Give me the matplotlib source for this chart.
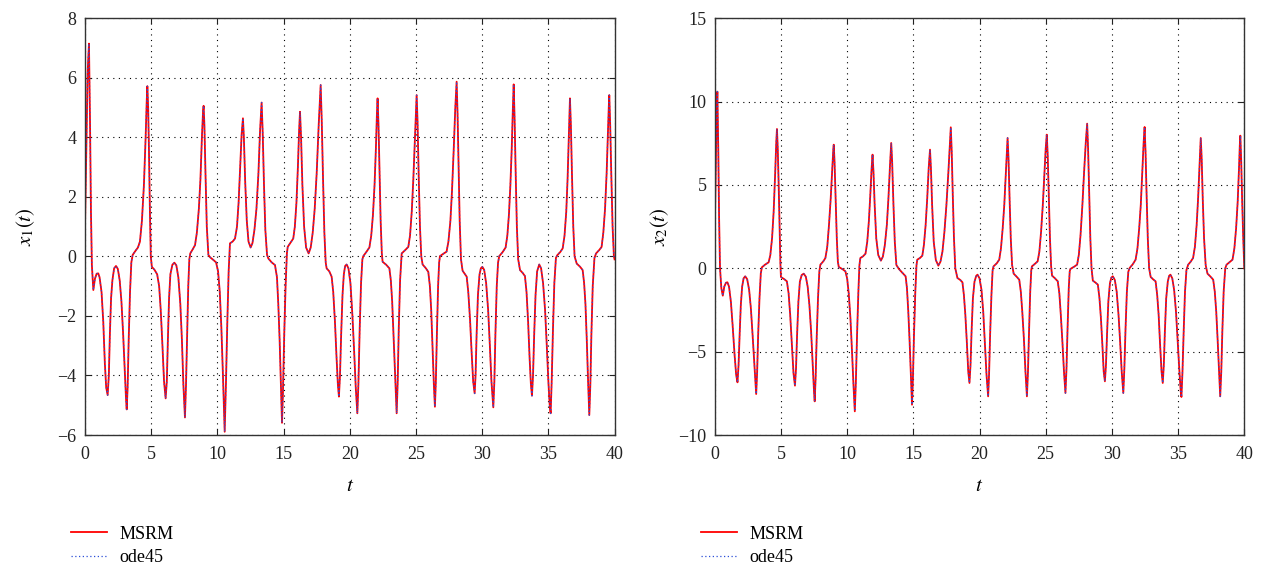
import matplotlib
import matplotlib.pyplot as plt

matplotlib.use("Agg")

plt.rcParams["font.family"] = ["Liberation Serif", "DejaVu Serif"]
plt.rcParams["mathtext.fontset"] = "stix"

RED = "#FF0000"
BLUE = "#2B4FD8"

# x1(t): points
t1 = [0.0, 0.1, 0.2, 0.3, 0.38, 0.45, 0.52, 0.63, 0.75, 0.88, 1.0, 1.1, 1.25, 1.38, 1.5, 1.6, 1.71, 1.8, 1.88, 1.97,
      2.07, 2.2, 2.34, 2.48, 2.62, 2.75, 2.88, 3.0, 3.1, 3.15, 3.22, 3.3, 3.4, 3.5, 3.6, 3.8, 4.0, 4.15, 4.3, 4.45,
      4.58, 4.66, 4.71, 4.77, 4.83, 4.9, 4.97, 5.05, 5.25, 5.45, 5.6, 5.72, 5.85, 5.97, 6.09, 6.18, 6.26, 6.35, 6.45, 6.6,
      6.75, 6.9, 7.05, 7.2, 7.32, 7.43, 7.55, 7.63, 7.72, 7.8, 7.88, 7.95, 8.15, 8.31, 8.45, 8.6, 8.72, 8.83, 8.92, 8.96,
      9.02, 9.1, 9.2, 9.32, 9.45, 9.7, 9.9, 10.05, 10.18, 10.3, 10.42, 10.55, 10.65, 10.75, 10.85, 10.95, 11.15, 11.33, 11.48, 11.6,
      11.72, 11.83, 11.93, 12.0, 12.1, 12.22, 12.35, 12.51, 12.65, 12.8, 12.95, 13.1, 13.22, 13.34, 13.42, 13.52, 13.62, 13.75, 13.85, 14.1,
      14.35, 14.5, 14.6, 14.7, 14.8, 14.88, 14.95, 15.05, 15.15, 15.25, 15.31, 15.55, 15.73, 15.85, 15.97, 16.08, 16.17, 16.24, 16.32, 16.42,
      16.55, 16.7, 16.89, 17.05, 17.2, 17.35, 17.5, 17.65, 17.8, 17.88, 17.98, 18.08, 18.18, 18.25, 18.45, 18.63, 18.75, 18.88, 19.0, 19.1,
      19.18, 19.26, 19.35, 19.45, 19.55, 19.65, 19.76, 19.9, 20.05, 20.2, 20.33, 20.45, 20.57, 20.65, 20.75, 20.85, 20.95, 21.02, 21.25, 21.48,
      21.62, 21.75, 21.87, 21.97, 22.05, 22.1, 22.17, 22.25, 22.33, 22.42, 22.48, 22.75, 22.99, 23.1, 23.2, 23.3, 23.42, 23.54, 23.62, 23.7,
      23.8, 23.92, 24.2, 24.42, 24.55, 24.68, 24.8, 24.92, 25.0, 25.05, 25.12, 25.2, 25.3, 25.4, 25.5, 25.75, 25.93, 26.05, 26.15, 26.25,
      26.35, 26.43, 26.5, 26.58, 26.67, 26.75, 26.81, 27.1, 27.31, 27.45, 27.6, 27.72, 27.85, 27.97, 28.07, 28.14, 28.22, 28.3, 28.4, 28.52,
      28.83, 28.95, 29.08, 29.2, 29.32, 29.43, 29.5, 29.58, 29.68, 29.8, 29.9, 30.01, 30.15, 30.3, 30.45, 30.58, 30.7, 30.84, 30.92, 31.0,
      31.1, 31.2, 31.29, 31.55, 31.77, 31.9, 32.02, 32.13, 32.23, 32.32, 32.38, 32.45, 32.53, 32.62, 32.72, 32.86, 33.05, 33.23, 33.35, 33.47,
      33.58, 33.68, 33.76, 33.84, 33.93, 34.03, 34.15, 34.31, 34.45, 34.6, 34.75, 34.88, 35.0, 35.1, 35.17, 35.25, 35.35, 35.45, 35.57, 35.67,
      35.9, 36.08, 36.22, 36.35, 36.45, 36.53, 36.6, 36.63, 36.7, 36.78, 36.88, 36.98, 37.14, 37.4, 37.59, 37.7, 37.8, 37.9, 38.0, 38.09,
      38.17, 38.25, 38.35, 38.48, 38.6, 38.85, 39.02, 39.15, 39.28, 39.4, 39.5, 39.56, 39.6, 39.67, 39.75, 39.85, 39.95, 40.0]
x1 = [1.0, 3.5, 6.2, 7.15, 4.5, 1.5, -0.3, -1.13, -0.75, -0.58, -0.57, -0.7, -1.2, -2.2, -3.6, -4.4, -4.66, -4.0, -2.6, -1.4,
      -0.8, -0.4, -0.32, -0.42, -0.8, -1.5, -2.6, -3.8, -4.8, -5.14, -4.4, -2.8, -1.2, -0.2, 0.05, 0.18, 0.3, 0.5, 1.2, 2.4,
      4.0, 5.2, 5.72, 5.0, 3.6, 1.6, 0.0, -0.35, -0.45, -0.6, -1.0, -1.8, -3.0, -4.2, -4.77, -4.2, -2.8, -1.4, -0.6, -0.28,
      -0.21, -0.3, -0.7, -1.6, -2.8, -4.3, -5.41, -4.3, -2.5, -1.0, -0.1, 0.1, 0.25, 0.38, 0.8, 1.6, 2.6, 4.0, 4.9, 5.06,
      4.4, 2.8, 1.0, 0.05, -0.03, -0.12, -0.2, -0.5, -1.2, -2.4, -4.0, -5.89, -4.2, -2.2, -0.5, 0.44, 0.5, 0.6, 1.0, 1.8,
      3.0, 4.1, 4.64, 4.0, 2.5, 1.2, 0.5, 0.3, 0.45, 0.9, 1.6, 2.8, 4.2, 5.17, 4.2, 2.4, 0.9, 0.05, -0.07, -0.2,
      -0.29, -0.7, -1.6, -2.8, -4.4, -5.59, -4.6, -2.6, -1.0, 0.1, 0.32, 0.48, 0.6, 1.0, 1.8, 3.0, 4.2, 4.86, 4.0, 2.4,
      1.0, 0.3, 0.1, 0.3, 0.8, 1.6, 2.8, 4.4, 5.76, 4.6, 2.6, 0.8, -0.2, -0.4, -0.5, -0.68, -1.2, -2.2, -3.4, -4.3,
      -4.71, -4.0, -2.6, -1.3, -0.6, -0.32, -0.27, -0.4, -0.9, -2.0, -3.2, -4.4, -5.27, -4.3, -2.4, -0.9, -0.1, 0.01, 0.15, 0.3,
      0.7, 1.4, 2.4, 3.6, 4.8, 5.31, 4.4, 2.8, 1.2, 0.1, -0.18, -0.28, -0.4, -0.8, -1.5, -2.6, -4.0, -5.27, -4.2, -2.4,
      -0.8, 0.1, 0.22, 0.32, 0.7, 1.5, 2.6, 4.0, 5.0, 5.42, 4.5, 2.8, 1.0, 0.0, -0.27, -0.4, -0.52, -1.0, -1.8, -3.0,
      -4.3, -5.05, -4.2, -2.6, -1.0, -0.2, 0.01, 0.1, 0.16, 0.5, 1.2, 2.2, 3.6, 5.0, 5.87, 4.8, 3.0, 1.2, -0.1, -0.48,
      -0.68, -1.2, -2.1, -3.2, -4.2, -4.6, -4.0, -2.6, -1.3, -0.6, -0.4, -0.35, -0.45, -0.9, -1.8, -3.0, -4.2, -5.07, -4.2, -2.6,
      -1.0, -0.2, 0.01, 0.15, 0.3, 0.7, 1.4, 2.4, 3.6, 5.0, 5.78, 4.6, 2.8, 1.0, -0.1, -0.46, -0.55, -0.66, -1.2, -2.2,
      -3.4, -4.3, -4.68, -4.0, -2.6, -1.3, -0.5, -0.27, -0.4, -0.9, -1.8, -3.0, -4.2, -5.0, -5.27, -4.2, -2.4, -0.9, -0.05, 0.04,
      0.15, 0.27, 0.7, 1.5, 2.6, 3.8, 4.9, 5.31, 4.4, 2.8, 1.0, 0.0, -0.24, -0.35, -0.46, -0.9, -1.6, -2.8, -4.2, -5.33,
      -4.3, -2.6, -1.0, -0.05, 0.1, 0.22, 0.32, 0.8, 1.6, 2.8, 4.2, 5.0, 5.42, 4.4, 2.8, 1.0, 0.0, -0.1]

# x2(t): points
t2 = [0.0, 0.07, 0.14, 0.2, 0.27, 0.33, 0.4, 0.5, 0.61, 0.72, 0.85, 0.96, 1.08, 1.22, 1.35, 1.5, 1.62, 1.72, 1.8, 1.88,
      1.97, 2.07, 2.18, 2.3, 2.45, 2.6, 2.73, 2.86, 2.98, 3.08, 3.13, 3.2, 3.28, 3.38, 3.48, 3.56, 3.8, 4.07, 4.2, 4.33,
      4.45, 4.56, 4.65, 4.7, 4.76, 4.83, 4.9, 4.96, 5.0, 5.25, 5.45, 5.58, 5.7, 5.82, 5.95, 6.06, 6.14, 6.22, 6.32, 6.43,
      6.57, 6.72, 6.88, 7.02, 7.15, 7.28, 7.4, 7.5, 7.55, 7.62, 7.7, 7.8, 7.9, 7.98, 8.2, 8.36, 8.5, 8.63, 8.76, 8.88,
      8.96, 8.99, 9.05, 9.13, 9.22, 9.3, 9.37, 9.65, 9.87, 10.0, 10.12, 10.25, 10.37, 10.48, 10.58, 10.66, 10.75, 10.85, 10.93, 11.0,
      11.2, 11.39, 11.52, 11.64, 11.75, 11.85, 11.92, 11.99, 12.08, 12.2, 12.35, 12.55, 12.7, 12.85, 13.0, 13.12, 13.24, 13.33, 13.4, 13.5,
      13.6, 13.72, 13.91, 14.15, 14.42, 14.52, 14.62, 14.72, 14.82, 14.9, 14.97, 15.05, 15.15, 15.24, 15.3, 15.5, 15.68, 15.8, 15.93, 16.05,
      16.16, 16.26, 16.33, 16.42, 16.54, 16.7, 16.89, 17.05, 17.2, 17.35, 17.5, 17.65, 17.77, 17.83, 17.9, 17.98, 18.07, 18.17, 18.33, 18.55,
      18.71, 18.82, 18.93, 19.04, 19.15, 19.24, 19.32, 19.4, 19.5, 19.62, 19.75, 19.85, 20.0, 20.15, 20.28, 20.4, 20.53, 20.65, 20.72, 20.8,
      20.9, 20.99, 21.06, 21.3, 21.49, 21.62, 21.75, 21.87, 21.98, 22.07, 22.12, 22.19, 22.27, 22.36, 22.46, 22.58, 22.8, 23.0, 23.12, 23.23,
      23.35, 23.47, 23.58, 23.66, 23.74, 23.83, 23.91, 23.96, 24.2, 24.39, 24.52, 24.65, 24.78, 24.9, 25.0, 25.08, 25.15, 25.23, 25.32, 25.41,
      25.48, 25.7, 25.91, 26.03, 26.14, 26.26, 26.38, 26.49, 26.57, 26.65, 26.74, 26.81, 26.86, 27.15, 27.37, 27.5, 27.63, 27.77, 27.9, 28.03,
      28.13, 28.2, 28.28, 28.37, 28.46, 28.56, 28.75, 28.94, 29.06, 29.17, 29.28, 29.38, 29.47, 29.55, 29.63, 29.73, 29.85, 29.96, 30.07, 30.22,
      30.36, 30.5, 30.62, 30.74, 30.86, 30.94, 31.03, 31.13, 31.24, 31.34, 31.58, 31.79, 31.93, 32.06, 32.18, 32.3, 32.4, 32.47, 32.54, 32.62,
      32.71, 32.81, 32.93, 33.1, 33.3, 33.42, 33.53, 33.64, 33.75, 33.84, 33.92, 34.0, 34.1, 34.22, 34.32, 34.42, 34.56, 34.7, 34.84, 34.97,
      35.1, 35.2, 35.25, 35.33, 35.42, 35.52, 35.63, 35.76, 35.95, 36.13, 36.27, 36.4, 36.51, 36.61, 36.68, 36.71, 36.78, 36.86, 36.96, 37.08,
      37.22, 37.45, 37.65, 37.77, 37.88, 37.98, 38.08, 38.18, 38.26, 38.34, 38.44, 38.56, 38.66, 38.9, 39.11, 39.25, 39.38, 39.5, 39.6, 39.66,
      39.7, 39.76, 39.84, 39.92, 40.0]
x2 = [2.0, 5.5, 9.2, 10.6, 7.0, 3.0, 0.0, -1.2, -1.64, -1.1, -0.86, -0.84, -1.1, -2.0, -3.4, -5.2, -6.4, -6.84, -5.8, -4.0,
      -2.2, -1.1, -0.6, -0.48, -0.65, -1.3, -2.4, -4.0, -5.6, -7.0, -7.54, -6.3, -4.0, -1.8, -0.3, 0.06, 0.22, 0.36, 0.8, 1.8,
      3.4, 5.6, 7.6, 8.36, 7.2, 5.0, 2.4, 0.3, -0.52, -0.65, -0.78, -1.5, -2.8, -4.5, -6.3, -7.04, -6.0, -4.0, -2.0, -0.8,
      -0.4, -0.32, -0.5, -1.1, -2.2, -3.8, -5.8, -7.4, -7.98, -6.6, -4.2, -1.8, -0.2, 0.22, 0.42, 0.62, 1.3, 2.6, 4.2, 6.0,
      7.2, 7.42, 6.4, 4.2, 1.8, 0.4, 0.08, -0.05, -0.18, -0.6, -1.5, -3.0, -5.0, -7.0, -8.58, -6.8, -4.0, -1.4, 0.2, 0.62,
      0.72, 0.88, 1.6, 2.8, 4.4, 6.0, 6.82, 5.8, 3.8, 1.8, 0.8, 0.46, 0.7, 1.4, 2.6, 4.2, 6.2, 7.52, 6.4, 3.8,
      1.6, 0.2, -0.04, -0.25, -0.48, -1.2, -2.6, -4.4, -6.6, -8.18, -6.6, -4.0, -1.4, 0.2, 0.52, 0.62, 0.76, 1.4, 2.6, 4.2,
      6.0, 7.12, 6.0, 3.8, 1.6, 0.5, 0.16, 0.4, 1.0, 2.2, 3.8, 5.8, 7.6, 8.46, 7.0, 4.4, 1.8, 0.0, -0.58, -0.7,
      -0.84, -1.6, -2.8, -4.4, -6.2, -6.88, -5.8, -3.8, -1.8, -0.8, -0.45, -0.38, -0.6, -1.3, -2.6, -4.4, -6.4, -7.68, -6.4, -4.0,
      -1.6, -0.1, 0.12, 0.3, 0.52, 1.2, 2.4, 3.8, 5.6, 7.2, 7.82, 6.6, 4.2, 1.8, 0.2, -0.32, -0.5, -0.68, -1.4, -2.6,
      -4.2, -6.2, -7.68, -6.2, -3.8, -1.4, -0.1, 0.12, 0.28, 0.42, 1.0, 2.2, 3.8, 5.6, 7.2, 8.02, 6.8, 4.4, 1.8, 0.1,
      -0.44, -0.6, -0.78, -1.5, -2.8, -4.4, -6.2, -7.48, -6.0, -3.6, -1.2, -0.2, -0.04, 0.1, 0.22, 0.8, 2.0, 3.8, 5.8, 7.6,
      8.68, 7.2, 4.6, 1.8, 0.0, -0.74, -0.85, -0.98, -1.8, -3.0, -4.6, -6.2, -6.78, -5.8, -4.0, -2.0, -0.9, -0.55, -0.48, -0.7,
      -1.4, -2.8, -4.4, -6.2, -7.48, -6.0, -3.6, -1.4, -0.2, 0.02, 0.25, 0.52, 1.2, 2.4, 3.8, 5.8, 7.6, 8.48, 7.0, 4.4,
      1.8, 0.0, -0.52, -0.65, -0.78, -1.6, -2.8, -4.6, -6.2, -6.88, -5.8, -3.8, -1.8, -0.8, -0.45, -0.38, -0.6, -1.3, -2.6, -4.4,
      -6.2, -7.4, -7.72, -6.2, -3.8, -1.4, -0.1, 0.22, 0.4, 0.62, 1.3, 2.6, 4.2, 6.0, 7.4, 7.82, 6.6, 4.2, 1.8, 0.2,
      -0.32, -0.5, -0.68, -1.4, -2.6, -4.2, -6.0, -7.68, -6.2, -3.8, -1.4, 0.0, 0.22, 0.38, 0.52, 1.2, 2.4, 4.0, 6.0, 7.4,
      7.96, 6.6, 4.0, 1.8, 0.0]

x_ticks = [0, 5, 10, 15, 20, 25, 30, 35, 40]
y1_ticks = [-6, -4, -2, 0, 2, 4, 6, 8]
y2_ticks = [-10, -5, 0, 5, 10, 15]
labels = ["MSRM", "ode45"]

fig = plt.figure(figsize=(12.63, 5.69), dpi=100)
fig.patch.set_facecolor("white")

# left, data, ticks, y label, y label x offset (axes coords)
panels = [
    (0.0673, t1, x1, y1_ticks, r"$x_1(t)$", -0.09),
    (0.5659, t2, x2, y2_ticks, r"$x_2(t)$", -0.082),
]

for left, t, x, yt, ylab, ylab_x in panels:
    ax = fig.add_axes([left, 0.2355, 0.4193, 0.7323])
    ax.plot(t, x, color=RED, lw=1.3, label=labels[0])
    ax.plot(t, x, color=BLUE, lw=0.9, ls=(0, (1, 2)), label=labels[1])
    ax.set_xlim(x_ticks[0], x_ticks[-1])
    ax.set_ylim(yt[0], yt[-1])
    ax.set_xticks(x_ticks)
    ax.set_yticks(yt)
    ax.set_yticklabels([str(v).replace("-", "\u2212") for v in yt])
    ax.tick_params(direction="in", top=True, right=True, labelsize=13, length=4, width=0.8, colors="#222222")
    ax.tick_params(axis="x", pad=8)
    ax.tick_params(axis="y", pad=6)
    ax.grid(True, color="black", ls=(0, (1, 4)), lw=0.8)
    for s in ax.spines.values():
        s.set_color("#333333")
        s.set_linewidth(1.0)
    ax.set_xlabel(r"$t$", fontsize=15)
    ax.set_ylabel(ylab, fontsize=15)
    ax.xaxis.set_label_coords(0.5, -0.10)
    ax.yaxis.set_label_coords(ylab_x, 0.5)
    ax.legend(loc="upper left", bbox_to_anchor=(-0.04, -0.2), frameon=False, fontsize=13,
              handlelength=2.0, handletextpad=0.7, labelspacing=0.35, borderaxespad=0)

fig.savefig("out.png", dpi=100, facecolor="white")
